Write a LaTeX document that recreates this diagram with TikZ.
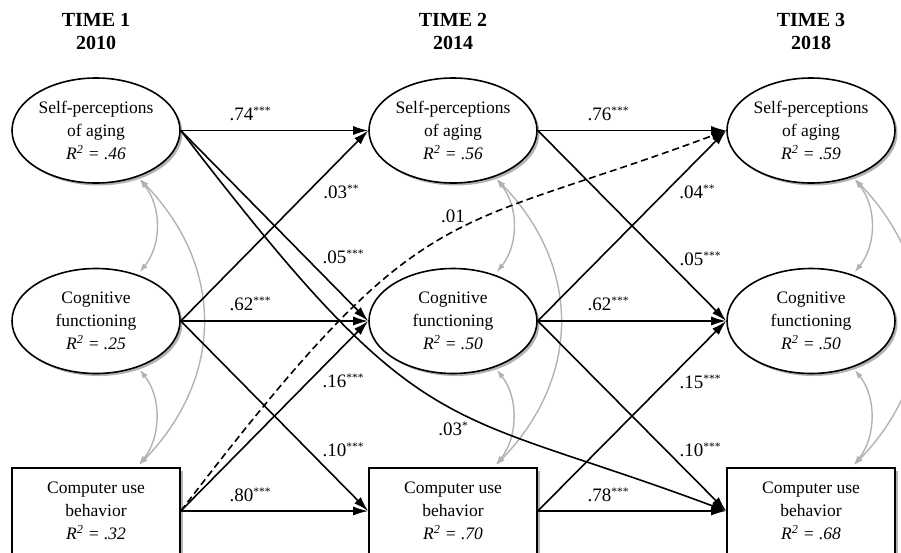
\documentclass[tikz,border=0pt]{standalone}
\usepackage{fontspec}
\setmainfont{Liberation Serif}
\usetikzlibrary{arrows.meta,shapes.geometric,shadows,calc}
\begin{document}
\begin{tikzpicture}[x=1pt,y=-1pt,
  shad/.style={drop shadow={shadow xshift=2.5pt,shadow yshift=-2.5pt,fill=black,opacity=0.3}},
  lat/.style={ellipse,draw=black,line width=1.6pt,fill=white,minimum width=168pt,minimum height=105pt,inner sep=0pt,align=center,font=\fontsize{17.5}{23}\selectfont,shad},
  obs/.style={rectangle,draw=black,line width=1.6pt,fill=white,minimum width=168pt,minimum height=86pt,inner sep=0pt,align=center,font=\fontsize{17.5}{23}\selectfont,shad},
  head/.style={font=\fontsize{20}{23}\selectfont\bfseries,align=center,inner sep=0pt},
  reg/.style={line width=1.6pt,-{Latex[length=15pt,width=9pt]}},
  cov/.style={draw=black!30,line width=1.4pt,shorten <=3pt,shorten >=3pt,{Latex[length=9pt,width=6pt]}-{Latex[length=9pt,width=6pt]}},
  coef/.style={font=\fontsize{19}{22}\selectfont,anchor=base,inner sep=0pt}
]
\useasboundingbox (0,0) rectangle (901,552);
\clip (0,0) rectangle (901,552);
\newcommand{\st}[1]{\raisebox{6pt}{\fontsize{11.5}{11.5}\selectfont #1}}

% headers
\node[head] (h1) at (96,31.5) {TIME 1\\2010};
\node[head] (h2) at (453,31.5) {TIME 2\\2014};
\node[head] (h3) at (811,31.5) {TIME 3\\2018};

% nodes
\node[lat] (s1) at (96,130.5) {Self-perceptions\\of aging\\\textit{R\textsuperscript{2} = .46}};
\node[lat] (c1) at (96,321) {Cognitive\\functioning\\\textit{R\textsuperscript{2} = .25}};
\node[obs] (b1) at (96,511) {Computer use\\behavior\\\textit{R\textsuperscript{2} = .32}};
\node[lat] (s2) at (453,130.5) {Self-perceptions\\of aging\\\textit{R\textsuperscript{2} = .56}};
\node[lat] (c2) at (453,321) {Cognitive\\functioning\\\textit{R\textsuperscript{2} = .50}};
\node[obs] (b2) at (453,511) {Computer use\\behavior\\\textit{R\textsuperscript{2} = .70}};
\node[lat] (s3) at (811,130.5) {Self-perceptions\\of aging\\\textit{R\textsuperscript{2} = .59}};
\node[lat] (c3) at (811,321) {Cognitive\\functioning\\\textit{R\textsuperscript{2} = .50}};
\node[obs] (b3) at (811,511) {Computer use\\behavior\\\textit{R\textsuperscript{2} = .68}};

% covariances
\foreach \i in {1,2,3}{
  \draw[cov] (s\i.-48) .. controls +(24,30) and +(24,-30) .. (c\i.48);
  \draw[cov] (c\i.-48) .. controls +(24,30) and +(24,-30) .. ([xshift=41pt]b\i.north);
  \draw[cov] (s\i.-48) .. controls +(87,90) and +(87,-90) .. ([xshift=41pt]b\i.north);
}

% regressions time 1 -> time 2
\draw[reg] (s1.east) -- (s2.west);
\draw[reg] (s1.east) -- (c2.west);
\draw[reg] (c1.east) -- (s2.west);
\draw[reg] (c1.east) -- (c2.west);
\draw[reg] (c1.east) -- (b2.west);
\draw[reg] (b1.east) -- (c2.west);
\draw[reg] (b1.east) -- (b2.west);
\draw[reg,dash pattern=on 7pt off 4pt] (b1.east) .. controls (426,191) and (437,238) .. (s3.west);
\draw[reg] (s1.east) .. controls (426,450) and (437,403) .. (b3.west);
% time 2 -> time 3
\draw[reg] (s2.east) -- (s3.west);
\draw[reg] (s2.east) -- (c3.west);
\draw[reg] (c2.east) -- (s3.west);
\draw[reg] (c2.east) -- (c3.west);
\draw[reg] (c2.east) -- (b3.west);
\draw[reg] (b2.east) -- (c3.west);
\draw[reg] (b2.east) -- (b3.west);

% coefficients
\node[coef] (l1) at (250,120) {.74\st{***}};
\node[coef] (l2) at (341,198) {.03\st{**}};
\node[coef] (l3) at (343,263) {.05\st{***}};
\node[coef] (l4) at (250,310.5) {.62\st{***}};
\node[coef] (l5) at (343,387) {.16\st{***}};
\node[coef] (l6) at (343,456) {.10\st{***}};
\node[coef] (l7) at (250,501) {.80\st{***}};
\node[coef] (l8) at (453,222) {.01};
\node[coef] (l9) at (453,435) {.03\st{*}};
\node[coef] (m1) at (608,120) {.76\st{***}};
\node[coef] (m2) at (697,198) {.04\st{**}};
\node[coef] (m3) at (700,265) {.05\st{***}};
\node[coef] (m4) at (608,310.5) {.62\st{***}};
\node[coef] (m5) at (700,388) {.15\st{***}};
\node[coef] (m6) at (700,456) {.10\st{***}};
\node[coef] (m7) at (608,501) {.78\st{***}};
\end{tikzpicture}
\end{document}
